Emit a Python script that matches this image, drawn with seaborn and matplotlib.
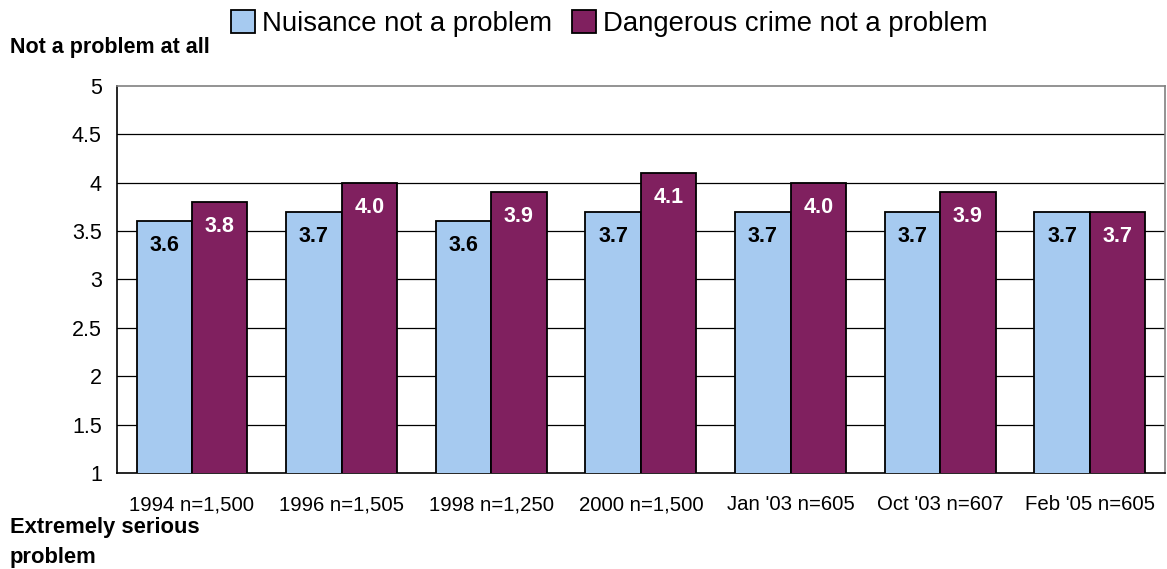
import matplotlib
matplotlib.use("Agg")
import matplotlib.pyplot as plt
import numpy as np
import pandas as pd
import seaborn as sns

categories = ["1994 n=1,500", "1996 n=1,505", "1998 n=1,250", "2000 n=1,500",
              "Jan '03 n=605", "Oct '03 n=607", "Feb '05 n=605"]
nuisance = [3.6, 3.7, 3.6, 3.7, 3.7, 3.7, 3.7]
dangerous = [3.8, 4.0, 3.9, 4.1, 4.0, 3.9, 3.7]
series_names = ["Nuisance not a problem", "Dangerous crime not a problem"]
y_ticks = [1, 1.5, 2, 2.5, 3, 3.5, 4, 4.5, 5]
y_tick_labels = ["1", "1.5", "2", "2.5", "3", "3.5", "4", "4.5", "5"]

colors = ["#A6CAF0", "#80205F"]
label_colors = ["black", "white"]

df = pd.DataFrame({
    "period": categories * 2,
    "score": nuisance + dangerous,
    "series": [series_names[0]] * len(categories) + [series_names[1]] * len(categories),
})

sns.set_style("white")
plt.rcParams["font.family"] = ["Liberation Sans", "DejaVu Sans"]
plt.rcParams["text.color"] = "black"
plt.rcParams["xtick.color"] = "black"
plt.rcParams["ytick.color"] = "black"
plt.rcParams["xtick.labelcolor"] = "black"
plt.rcParams["ytick.labelcolor"] = "black"

fig = plt.figure(figsize=(11.67, 5.69), dpi=100)
ax = fig.add_axes([0.1003, 0.1687, 0.8977, 0.6802])

sns.barplot(data=df, x="period", y="score", hue="series", order=categories,
            hue_order=series_names, palette=colors, width=0.74,
            edgecolor="black", linewidth=1.3, saturation=1, ax=ax,
            legend=True, zorder=3)

ax.set_ylim(1, 5)
ax.set_xlim(-0.5, len(categories) - 0.5)
ax.set_yticks(y_ticks)
ax.set_yticklabels(y_tick_labels, fontsize=15.5)
ax.set_xticks(range(len(categories)))
ax.set_xticklabels(categories, fontsize=14.7)
ax.set_xlabel("")
ax.set_ylabel("")

# horizontal gridlines
for yv in y_ticks[1:-1]:
    ax.axhline(yv, color="black", linewidth=0.9, zorder=1)

# value labels inside the bar tops
for container, tc in zip(ax.containers, label_colors):
    for bar in container:
        h = bar.get_height()
        ax.annotate(f"{h:.1f}", (bar.get_x() + bar.get_width() / 2, h),
                    xytext=(0, -17.5), textcoords="offset points",
                    ha="center", va="center", fontsize=15.5, fontweight="bold",
                    color=tc, zorder=5)

# ticks
ax.tick_params(axis="x", which="major", length=0, pad=16)
ax.set_xticks(np.arange(0.5, len(categories) - 0.5, 1), minor=True)
ax.tick_params(axis="x", which="minor", length=5, width=1, color="black",
               direction="out")
ax.tick_params(axis="y", which="major", length=7, width=1, color="black",
               direction="out", pad=4)

for side in ["left", "bottom"]:
    ax.spines[side].set_color("black")
    ax.spines[side].set_linewidth(1.2)
for side in ["top", "right"]:
    ax.spines[side].set_color("#808080")
    ax.spines[side].set_linewidth(1.2)

handles, labels = ax.get_legend_handles_labels()
ax.legend_.remove()
fig.legend(handles, labels, loc="center", bbox_to_anchor=(0.522, 0.959),
           ncol=2, frameon=False, fontsize=19.8, handlelength=0.9,
           handleheight=0.9, handletextpad=0.25, columnspacing=0.7,
           borderaxespad=0)

fig.text(10 / 1167, 1 - 47 / 569, "Not a problem at all", fontsize=15.5,
         fontweight="bold", ha="left", va="center")
fig.text(10 / 1167, 1 - 527 / 569, "Extremely serious", fontsize=15.8,
         fontweight="bold", ha="left", va="center")
fig.text(10 / 1167, 1 - 557 / 569, "problem", fontsize=15.8,
         fontweight="bold", ha="left", va="center")

fig.savefig("out.png", dpi=100)
